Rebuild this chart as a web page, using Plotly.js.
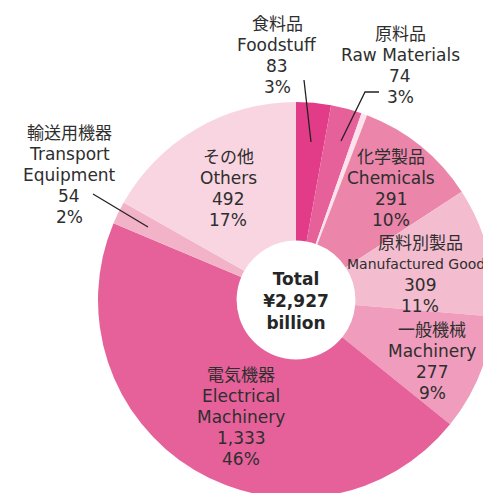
<!DOCTYPE html>
<html>
<head>
<meta charset="utf-8">
<script src="https://cdn.plot.ly/plotly-3.0.1.min.js"></script>
<style>
html,body{margin:0;padding:0;overflow:hidden;background:#fff;width:483px;height:493px;}
#chart{width:520px;height:510px;}
</style>
</head>
<body>
<div id="chart"></div>
<script>
// Data
const categoriesJa = ["食料品", "原料品", "", "化学製品", "原料別製品", "一般機械", "電気機器", "輸送用機器", "その他"];
const categoriesEn = ["Foodstuff", "Raw Materials", "Mineral Fuels", "Chemicals", "Manufactured Goods", "Machinery", "Electrical|Machinery", "Transport|Equipment", "Others"];
const values = [83, 74, 14, 291, 309, 277, 1333, 54, 492];
const valueLabels = ["83", "74", "", "291", "309", "277", "1,333", "54", "492"];
const percentLabels = ["3%", "3%", "", "10%", "11%", "9%", "46%", "2%", "17%"];
const totalLabel = "Total<br>¥2,927<br>billion";

const colors = ["#e23c88", "#e6619a", "#fbe2eb", "#eb85aa", "#f4bccf", "#f09cbc", "#e6619a", "#f2b3c8", "#f8d5e1"];

const W = 520, H = 510;
const px = x => x / W;
const py = y => (H - y) / H;

// label anchor positions (pixel centers of the first line)
const labelPos = [
  [277, 24], [400, 34], null, [391, 157], [420, 243], [432, 330], [241, 375], [69, 133], [228, 157]
];
const lineGap = 21;

const fontFam = '"DejaVu Sans", "Noto Sans CJK JP", sans-serif';
const annotations = [];
for (let i = 0; i < values.length; i++) {
  if (!labelPos[i]) continue;
  const lines = [categoriesJa[i]].concat(categoriesEn[i].split("|"), [valueLabels[i], percentLabels[i]]);
  lines.forEach((ln, k) => {
    const isEn = k >= 1 && k <= lines.length - 3;
    const size = (i === 4 && isEn) ? 14 : 17;
    annotations.push({
      xref: "paper", yref: "paper",
      x: px(labelPos[i][0]), y: py(labelPos[i][1] + k * lineGap),
      xanchor: "center", yanchor: "middle",
      text: ln, showarrow: false,
      font: {family: fontFam, size: size, color: "#2e2e2e"},
      align: "center"
    });
  });
}

const lineStyle = {color: "#222", width: 1.3};
const shapes = [
  {type: "line", xref: "paper", yref: "paper", x0: px(304), y0: py(80), x1: px(311), y1: py(142), line: lineStyle},
  {type: "path", xref: "paper", yref: "paper",
   path: "M " + px(379) + "," + py(92) + " L " + px(365) + "," + py(92) + " L " + px(341) + "," + py(141),
   line: lineStyle},
  {type: "line", xref: "paper", yref: "paper", x0: px(93), y0: py(194), x1: px(148), y1: py(227), line: lineStyle}
];

const trace = {
  type: "pie",
  values: values,
  labels: categoriesEn.map(s => s.replace("|", " ")),
  sort: false,
  direction: "clockwise",
  rotation: 0,
  hole: 0.3,
  textinfo: "none",
  hoverinfo: "label+value+percent",
  marker: {colors: colors, line: {width: 0}},
  domain: {x: [98 / W, 494 / W], y: [(H - 498) / H, (H - 102) / H]},
  title: {text: "<b>" + totalLabel + "</b>", position: "middle center",
          font: {family: fontFam, size: 17, color: "#262626"}},
  showlegend: false
};

Plotly.newPlot("chart", [trace], {
  width: W, height: H,
  margin: {l: 0, r: 0, t: 0, b: 0},
  paper_bgcolor: "#fff",
  showlegend: false,
  annotations: annotations,
  shapes: shapes
}, {displayModeBar: false, staticPlot: true});
</script>
</body>
</html>
